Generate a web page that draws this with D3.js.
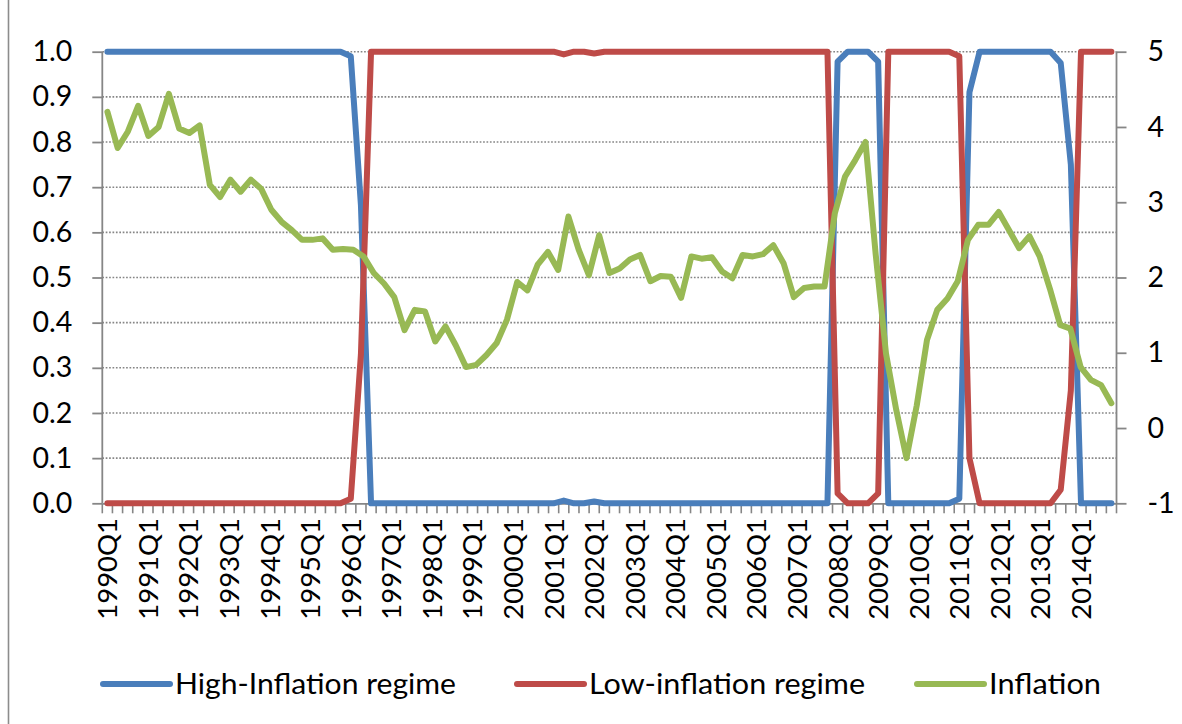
<!DOCTYPE html>
<html><head><meta charset="utf-8">
<script src="https://cdn.jsdelivr.net/npm/d3@7"></script>
<style>
body{margin:0;background:#fff;}
svg{display:block;font-family:Lato,"Open Sans",sans-serif;}
</style>
</head><body>
<svg id="chart" width="1182" height="724"></svg>
<script>
// ---------- DATA ----------
const years = [1990,1991,1992,1993,1994,1995,1996,1997,1998,1999,2000,2001,2002,2003,2004,2005,2006,2007,2008,2009,2010,2011,2012,2013,2014];
const quarterNames = ["Q1","Q2","Q3","Q4"];
// 100 quarterly categories 1990Q1..2014Q4 (regime probabilities)
const categories = years.flatMap(y => quarterNames.map(q => y + q));
// inflation series covers 99 quarters (plotted on its own secondary category axis)
const inflationCategories = categories.slice(0, 99);
// tick labels shown on the category axis
const tickLabels = years.map(y => y + "Q1");

const highInflation = [
 1,1,1,1,1,1,1,1,1,1,1,1,1,1,1,1,1,1,1,1,1,1,1,1,
 0.99,0.66,0,0,0,0,0,0,0,0,0,0,0,0,0,0,0,0,0,0,0,
 0.006,0,0,0.004,0,0,0,0,0,0,0,0,0,0,0,0,0,0,0,0,0,0,0,0,0,0,
 0,0.978,1,1,1,0.978,0,0,0,0,0,0,0,0.01,0.91,1,1,1,1,1,1,1,1,0.975,0.75,0,0,0,0
];
const lowInflation = [
 0,0,0,0,0,0,0,0,0,0,0,0,0,0,0,0,0,0,0,0,0,0,0,0,
 0.01,0.33,1,1,1,1,1,1,1,1,1,1,1,1,1,1,1,1,1,1,1,
 0.994,1,1,0.996,1,1,1,1,1,1,1,1,1,1,1,1,1,1,1,1,1,1,1,1,1,1,
 1,0.022,0,0,0,0.022,1,1,1,1,1,1,1,0.99,0.1,0,0,0,0,0,0,0,0,0.03,0.25,1,1,1,1
];
const inflation = [
 4.20,3.72,3.94,4.28,3.88,4.00,4.44,3.98,3.92,4.02,
 3.23,3.07,3.30,3.14,3.30,3.18,2.90,2.74,2.63,2.50,
 2.50,2.52,2.37,2.38,2.37,2.28,2.06,1.92,1.74,1.30,
 1.57,1.55,1.15,1.35,1.10,0.81,0.84,0.97,1.13,1.44,
 1.94,1.83,2.17,2.34,2.10,2.81,2.37,2.03,2.56,2.06,
 2.12,2.24,2.30,1.95,2.02,2.01,1.73,2.28,2.25,2.27,
 2.08,1.99,2.30,2.28,2.31,2.43,2.19,1.74,1.86,1.88,
 1.88,2.85,3.34,3.56,3.80,2.30,0.99,0.24,-0.40,0.30,
 1.17,1.57,1.72,1.95,2.50,2.70,2.70,2.87,2.63,2.39,
 2.55,2.28,1.85,1.37,1.32,0.81,0.64,0.57,0.33
];
const leftTicks = [0,0.1,0.2,0.3,0.4,0.5,0.6,0.7,0.8,0.9,1.0];
const rightTicks = [-1,0,1,2,3,4,5];
const seriesNames = ["High-Inflation regime","Low-inflation regime","Inflation"];
const seriesColors = ["#4A7EBB","#BE4B48","#98B954"];

// ---------- LAYOUT ----------
const svg = d3.select("#chart");
const X0 = 102.3, X1 = 1116.5, YT = 51.7, YB = 503.3;
const grey = "#868686";

// chart-area border (only the left edge is inside the picture)
svg.append("line").attr("x1",8.5).attr("x2",8.5).attr("y1",0).attr("y2",724)
  .attr("stroke","#8c8c8c").attr("stroke-width",1.6);

const x = d3.scaleBand().domain(categories).range([X0, X1]);
const x2 = d3.scaleBand().domain(inflationCategories).range([X0, X1]);
const yL = d3.scaleLinear().domain([0,1]).range([YB, YT]);
const yR = d3.scaleLinear().domain([-1,5]).range([YB, YT]);
const cx = c => x(c) + x.bandwidth()/2;
const cx2 = c => x2(c) + x2.bandwidth()/2;

// gridlines
svg.append("g").selectAll("line").data(leftTicks.filter(v => v > 0)).join("line")
  .attr("x1", X0).attr("x2", X1).attr("y1", d => yL(d)).attr("y2", d => yL(d))
  .attr("stroke", grey).attr("stroke-width", 1.6).attr("stroke-dasharray", "1.7,1.7");

// left axis
const axL = svg.append("g").attr("transform", `translate(${X0},0)`)
  .call(d3.axisLeft(yL).tickValues(leftTicks).tickFormat(d3.format(".1f")).tickSize(10).tickPadding(20));
// right axis
const axR = svg.append("g").attr("transform", `translate(${X1},0)`)
  .call(d3.axisRight(yR).tickValues(rightTicks).tickFormat(d => d < 0 ? "-" + Math.abs(d) : d).tickSize(10).tickPadding(21));
// bottom axis
const axB = svg.append("g").attr("transform", `translate(0,${YB})`)
  .call(d3.axisBottom(x).tickSize(0).tickFormat(""));
// category tick marks at boundaries
const bounds = categories.map(c => x(c)).concat([X1]);
axB.append("g").selectAll("line").data(bounds).join("line")
  .attr("x1", d => d).attr("x2", d => d).attr("y1", 0).attr("y2", 10)
  .attr("stroke", grey).attr("stroke-width", 1.6);

[axL, axR, axB].forEach(a => {
  a.select(".domain").attr("stroke", grey).attr("stroke-width", 1.8);
  a.selectAll(".tick line").attr("stroke", grey).attr("stroke-width", 1.8);
  a.selectAll("text").attr("fill", "#000").attr("font-size", 28.5).attr("font-family", "Lato");
});
axR.select(".domain").attr("d", `M0,${YT}V${YB}`);
axL.select(".domain").attr("d", `M0,${YT}V${YB}`);

// rotated category labels
svg.append("g").selectAll("text").data(tickLabels).join("text")
  .attr("transform", d => `translate(${cx(d)},518) rotate(-90)`)
  .attr("text-anchor", "end").attr("dy", "0.36em")
  .attr("font-size", 27.5).attr("fill", "#000").text(d => d);

// lines
const lineL = d3.line().x((d,i) => cx(categories[i])).y(d => yL(d));
const lineR = d3.line().x((d,i) => cx2(inflationCategories[i])).y(d => yR(d));
const gl = svg.append("g").attr("fill","none").attr("stroke-width",6)
  .attr("stroke-linejoin","round").attr("stroke-linecap","round");
gl.append("path").attr("d", lineL(highInflation)).attr("stroke", seriesColors[0]);
gl.append("path").attr("d", lineL(lowInflation)).attr("stroke", seriesColors[1]);
gl.append("path").attr("d", lineR(inflation)).attr("stroke", seriesColors[2]);

// legend
const legendX = [103, 517, 917];
const legendW = [281, 276, 112];
const leg = svg.append("g");
seriesNames.forEach((n, i) => {
  leg.append("line").attr("x1", legendX[i]).attr("x2", legendX[i] + 67)
    .attr("y1", 684).attr("y2", 684).attr("stroke", seriesColors[i])
    .attr("stroke-width", 6).attr("stroke-linecap", "round");
  leg.append("text").attr("x", legendX[i] + 72).attr("y", 684).attr("dy", "0.36em")
    .attr("font-size", 28.5).attr("fill", "#000")
    .attr("textLength", legendW[i]).attr("lengthAdjust", "spacingAndGlyphs").text(n);
});
</script>
</body></html>
